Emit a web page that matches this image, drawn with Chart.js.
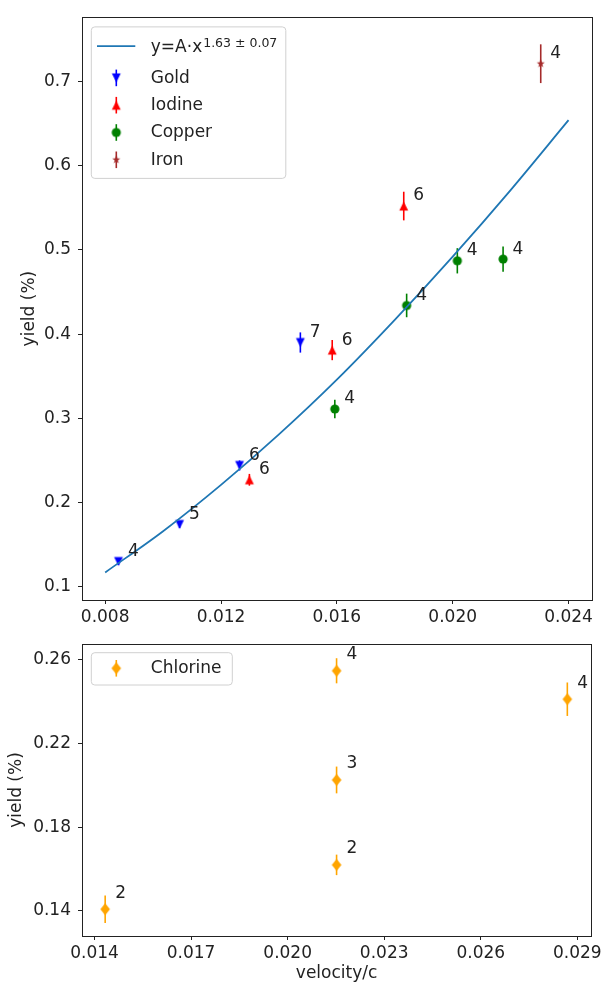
<!DOCTYPE html>
<html>
<head>
<meta charset="utf-8">
<script src="https://cdn.jsdelivr.net/npm/chart.js"></script>
<style>
  html, body { margin: 0; padding: 0; background: #fff; }
  #wrap { position: relative; width: 605px; height: 984px; overflow: hidden; }
  canvas { position: absolute; left: 0; }
  #top { top: 0; }
  #bottom { top: 620px; }
</style>
</head>
<body>
<div id="wrap">
  <canvas id="top" width="605" height="632"></canvas>
  <canvas id="bottom" width="605" height="364"></canvas>
</div>
<script>
// ---- top panel data ----
const fitX = [0.008, 0.010, 0.012, 0.014, 0.016, 0.018, 0.020, 0.022, 0.024];
const fitY = [0.117, 0.166, 0.221, 0.281, 0.346, 0.417, 0.492, 0.571, 0.654];
const fitLabel = 'y=A·x';
const fitSup = '1.63 ± 0.07';

const goldX = [0.00846, 0.01057, 0.01264, 0.01474];
const goldY = [0.130, 0.174, 0.244, 0.390];
const goldErr = [0.004, 0.004, 0.006, 0.012];
const goldN = [4, 5, 6, 7];

const iodineX = [0.01298, 0.01584, 0.01831];
const iodineY = [0.227, 0.381, 0.552];
const iodineErr = [0.007, 0.012, 0.017];
const iodineN = [6, 6, 6];

const copperX = [0.01593, 0.01841, 0.02016, 0.02174];
const copperY = [0.311, 0.434, 0.487, 0.489];
const copperErr = [0.011, 0.014, 0.015, 0.015];
const copperN = [4, 4, 4, 4];

const ironX = [0.02304];
const ironY = [0.721];
const ironErr = [0.023];
const ironN = [4];

const topXTicks = [0.008, 0.012, 0.016, 0.020, 0.024];
const topYTicks = [0.1, 0.2, 0.3, 0.4, 0.5, 0.6, 0.7];

// ---- bottom panel data ----
const chlorineX = [0.01433, 0.02152, 0.02152, 0.02152, 0.02869];
const chlorineY = [0.1408, 0.2548, 0.2026, 0.1620, 0.2412];
const chlorineErr = [0.0066, 0.0060, 0.0064, 0.0049, 0.0080];
const chlorineN = [2, 4, 3, 2, 4];

const botXTicks = [0.014, 0.017, 0.020, 0.023, 0.026, 0.029];
const botYTicks = [0.14, 0.18, 0.22, 0.26];

const FONT = 'DejaVu Sans';
const TXT = '#222';

const pts = (xs, ys) => xs.map((x, i) => ({ x: x, y: ys[i] }));

// marker sprites (matplotlib-like shapes)
function marker(shape, color) {
    const c = document.createElement('canvas');
    c.width = 14; c.height = 14;
    const g = c.getContext('2d');
    g.fillStyle = color;
    g.beginPath();
    const m = 7;
    if (shape === 'v') {
        g.moveTo(m - 4.4, m - 4.4); g.lineTo(m + 4.4, m - 4.4); g.lineTo(m, m + 4.4);
    } else if (shape === '^') {
        g.moveTo(m - 4.4, m + 4.4); g.lineTo(m + 4.4, m + 4.4); g.lineTo(m, m - 4.4);
    } else if (shape === 'o') {
        g.arc(m, m, 4.6, 0, Math.PI * 2);
    } else if (shape === '*') {
        for (let k = 0; k < 10; k++) {
            const r = k % 2 ? 1.7 : 4.2;
            const a = -Math.PI / 2 + k * Math.PI / 5;
            const px = m + r * Math.cos(a), py = m + r * Math.sin(a);
            k ? g.lineTo(px, py) : g.moveTo(px, py);
        }
    } else if (shape === 'd') {
        g.moveTo(m, m - 6); g.lineTo(m + 4.8, m); g.lineTo(m, m + 6); g.lineTo(m - 4.8, m);
    }
    g.closePath();
    g.fill();
    return c;
}

function errSet(label, xs, ys, err, counts, color, shape) {
    return {
        label: label,
        data: pts(xs, ys),
        err: err,
        counts: counts,
        errColor: color,
        pointStyle: marker(shape, color),
        pointRadius: 5,
        showLine: false,
        backgroundColor: color,
        borderColor: color
    };
}

// error bars, drawn under the markers
const errorBars = {
    id: 'errorBars',
    beforeDatasetsDraw(chart) {
        const ctx = chart.ctx, ys = chart.scales.y, xs = chart.scales.x;
        chart.data.datasets.forEach(ds => {
            if (!ds.err) return;
            ctx.save();
            ctx.strokeStyle = ds.errColor;
            ctx.lineWidth = 1.6;
            ds.data.forEach((p, i) => {
                const px = xs.getPixelForValue(p.x);
                ctx.beginPath();
                ctx.moveTo(px, ys.getPixelForValue(p.y - ds.err[i]));
                ctx.lineTo(px, ys.getPixelForValue(p.y + ds.err[i]));
                ctx.stroke();
            });
            ctx.restore();
        });
    }
};

// count labels next to points, axes frame, legend box
const decorations = {
    id: 'decorations',
    afterDatasetsDraw(chart, args, opts) {
        const ctx = chart.ctx, ys = chart.scales.y, xs = chart.scales.x;
        const a = chart.chartArea;
        ctx.save();
        ctx.fillStyle = TXT;
        ctx.font = '17px "' + FONT + '"';
        ctx.textAlign = 'left';
        ctx.textBaseline = 'middle';
        chart.data.datasets.forEach(ds => {
            if (!ds.counts) return;
            ds.data.forEach((p, i) => {
                ctx.fillText(String(ds.counts[i]),
                    xs.getPixelForValue(p.x) + opts.dx,
                    ys.getPixelForValue(p.y) + opts.dy);
            });
        });
        // frame
        ctx.strokeStyle = TXT;
        ctx.lineWidth = 1;
        ctx.strokeRect(Math.round(a.left) + 0.5, Math.round(a.top) + 0.5,
            Math.round(a.right - a.left), Math.round(a.bottom - a.top));

        // legend
        const lx = a.left + 9.3, ly = a.top + opts.legTop;
        ctx.beginPath();
        ctx.roundRect(lx, ly, opts.legW, opts.legH, 3.5);
        ctx.fillStyle = 'rgba(255,255,255,0.8)';
        ctx.fill();
        ctx.strokeStyle = '#d0d0d0';
        ctx.stroke();
        const mx = lx + 25;
        const tx = lx + 59.5;
        let rowY = ly + opts.firstRow;
        chart.data.datasets.forEach((ds, i) => {
            if (i > 0) rowY += (i === 1 && opts.supRow) ? 31.7 : 27.3;
            if (!ds.err) {
                ctx.strokeStyle = ds.borderColor;
                ctx.lineWidth = 1.8;
                ctx.beginPath();
                ctx.moveTo(lx + 5.7, rowY);
                ctx.lineTo(lx + 44, rowY);
                ctx.stroke();
                ctx.fillStyle = TXT;
                ctx.font = '17px "' + FONT + '"';
                ctx.textBaseline = 'middle';
                ctx.fillText(ds.label, tx, rowY + 1);
                const w = ctx.measureText(ds.label).width;
                ctx.font = '12.5px "' + FONT + '"';
                ctx.textBaseline = 'alphabetic';
                ctx.fillText(ds.sup, tx + w + 1, rowY + 1);
                return;
            }
            ctx.strokeStyle = ds.errColor;
            ctx.lineWidth = 1.6;
            ctx.beginPath();
            ctx.moveTo(mx, rowY - 8.3);
            ctx.lineTo(mx, rowY + 8.3);
            ctx.stroke();
            const s = ds.pointStyle;
            ctx.drawImage(s, mx - s.width / 2, rowY - s.height / 2);
            ctx.fillStyle = TXT;
            ctx.font = '17px "' + FONT + '"';
            ctx.textBaseline = 'middle';
            ctx.fillText(ds.label, tx, rowY + 0.5);
        });
        ctx.restore();
    }
};

function axes(xmin, xmax, xTicks, xDigits, xH, xTitle, ymin, ymax, yTicks, yDigits, yTitlePad) {
    const tickFont = { family: FONT, size: 17 };
    const grid = { drawOnChartArea: false, drawTicks: true, tickLength: 4, color: TXT, lineWidth: 1 };
    return {
        x: {
            type: 'linear', min: xmin, max: xmax,
            afterBuildTicks: s => { s.ticks = xTicks.map(v => ({ value: v })); },
            afterFit: s => { s.height = xH; },
            grid: grid,
            border: { display: false },
            ticks: { color: TXT, font: tickFont, padding: 3, maxRotation: 0, autoSkip: false,
                callback: v => v.toFixed(xDigits) },
            title: { display: !!xTitle, text: xTitle, color: TXT, font: tickFont, padding: { top: 0, bottom: 0 } }
        },
        y: {
            type: 'linear', min: ymin, max: ymax,
            afterBuildTicks: s => { s.ticks = yTicks.map(v => ({ value: v })); },
            afterFit: s => { s.width = 82; },
            grid: grid,
            border: { display: false },
            ticks: { color: TXT, font: tickFont, padding: 7, autoSkip: false,
                callback: v => v.toFixed(yDigits) },
            title: { display: true, text: 'yield (%)', color: TXT, font: tickFont, padding: { top: yTitlePad, bottom: 0 } }
        }
    };
}

const fitSet = {
    label: fitLabel,
    sup: fitSup,
    data: pts(fitX, fitY),
    showLine: true,
    borderColor: '#1f77b4',
    borderWidth: 1.8,
    pointRadius: 0,
    cubicInterpolationMode: 'monotone',
    fill: false
};

new Chart(document.getElementById('top'), {
    type: 'scatter',
    data: {
        datasets: [
            fitSet,
            errSet('Gold', goldX, goldY, goldErr, goldN, '#0000ff', 'v'),
            errSet('Iodine', iodineX, iodineY, iodineErr, iodineN, '#ff0000', '^'),
            errSet('Copper', copperX, copperY, copperErr, copperN, '#008000', 'o'),
            errSet('Iron', ironX, ironY, ironErr, ironN, '#a52a2a', '*')
        ]
    },
    options: {
        responsive: false,
        animation: false,
        devicePixelRatio: 1,
        layout: { padding: { left: 0, top: 15.3, right: 13.3, bottom: 0 } },
        scales: axes(0.0072, 0.0248, topXTicks, 3, 32, '', 0.0843, 0.7762, topYTicks, 1, 19.8),
        plugins: {
            legend: { display: false },
            tooltip: { enabled: false },
            decorations: { dx: 9.5, dy: -10, legTop: 9.7, legW: 194.5, legH: 151.5, firstRow: 19.3, supRow: true }
        }
    },
    plugins: [errorBars, decorations]
});

new Chart(document.getElementById('bottom'), {
    type: 'scatter',
    data: {
        datasets: [
            errSet('Chlorine', chlorineX, chlorineY, chlorineErr, chlorineN, '#ffa500', 'd')
        ]
    },
    options: {
        responsive: false,
        animation: false,
        devicePixelRatio: 1,
        layout: { padding: { left: 0, top: 24, right: 13.3, bottom: 0 } },
        scales: axes(0.01361, 0.02943, botXTicks, 3, 48, 'velocity/c', 0.128, 0.2676, botYTicks, 2, 6),
        plugins: {
            legend: { display: false },
            tooltip: { enabled: false },
            decorations: { dx: 10, dy: -16, legTop: 8.7, legW: 141, legH: 32.3, firstRow: 15.6, supRow: false }
        }
    },
    plugins: [errorBars, decorations]
});
</script>
</body>
</html>
